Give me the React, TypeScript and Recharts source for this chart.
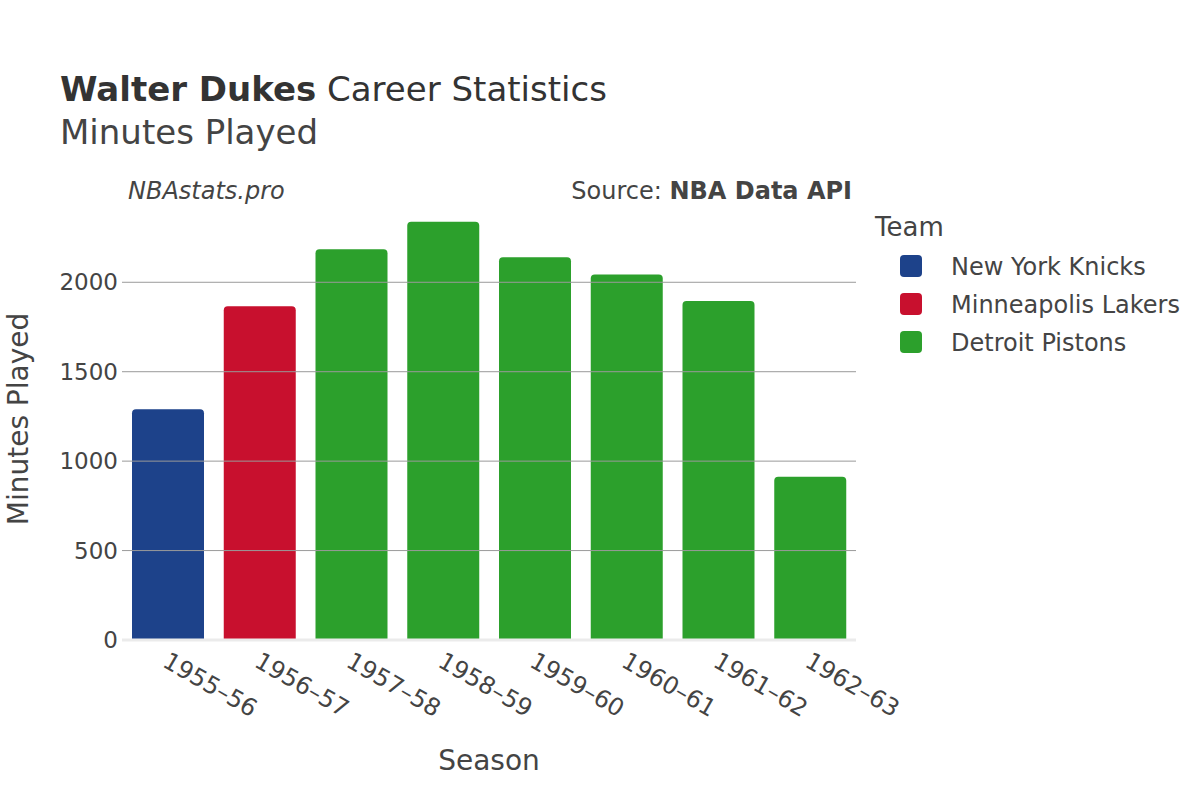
import React from 'react';
import { BarChart, Bar, XAxis, YAxis, ReferenceLine, Cell } from 'recharts';

// seasons and minutes
const seasons = ['1955–56', '1956–57', '1957–58', '1958–59', '1959–60', '1960–61', '1961–62', '1962–63'];
const minutes = [1290, 1866, 2184, 2338, 2140, 2044, 1896, 913];
const teams = ['New York Knicks', 'Minneapolis Lakers', 'Detroit Pistons', 'Detroit Pistons', 'Detroit Pistons', 'Detroit Pistons', 'Detroit Pistons', 'Detroit Pistons'];

const legendTeams = ['New York Knicks', 'Minneapolis Lakers', 'Detroit Pistons'];
const teamColors: Record<string, string> = {
  'New York Knicks': '#1d428a',
  'Minneapolis Lakers': '#c8102e',
  'Detroit Pistons': '#2ca02c',
};
const yTicks = [0, 500, 1000, 1500, 2000];

const FONT = '"DejaVu Sans", sans-serif';
const TEXT = '#444';

const App = () => {
  const data = seasons.map((s, i) => ({ season: s, minutes: minutes[i], team: teams[i] }));

  return (
    <div style={{ position: 'absolute', left: 0, top: 0, width: 1200, height: 800, background: '#fff', fontFamily: FONT }}>
      <BarChart
        width={1200}
        height={800}
        data={data}
        margin={{ top: 200, right: 344, bottom: 100, left: 62 }}
      >
        <XAxis
          dataKey="season"
          height={60}
          tickLine={false}
          axisLine={false}
          interval={0}
          angle={30}
          textAnchor="start"
          tick={{ fill: TEXT, fontSize: 24, fontFamily: FONT, dx: 2 }}
          tickSize={0}
          tickMargin={11}
        />
        <YAxis
          width={60}
          domain={[0, 2460]}
          ticks={yTicks}
          tickLine={false}
          axisLine={false}
          tickSize={0}
          tickMargin={4}
          tick={{ fill: TEXT, fontSize: 23, fontFamily: FONT }}
        />
        {/* gridlines */}
        {yTicks.filter(v => v > 0).map(v => (
          <ReferenceLine key={v} y={v} stroke="#9a9a9a" strokeWidth={1} />
        ))}
        <ReferenceLine y={0} stroke="#ebebeb" strokeWidth={3} />
        <Bar dataKey="minutes" barSize={72} radius={[4, 4, 0, 0]} isAnimationActive={false}>
          {data.map((d, i) => (
            <Cell key={i} fill={teamColors[d.team]} />
          ))}
        </Bar>
      </BarChart>

      <svg width={1200} height={800} style={{ position: 'absolute', left: 0, top: 0, pointerEvents: 'none' }} fontFamily={FONT}>
        <text x={60} y={101} fontSize={34} fill="#333">
          <tspan fontWeight="bold">Walter Dukes</tspan>
          <tspan> Career Statistics</tspan>
        </text>
        <text x={60} y={144} fontSize={34} fill={TEXT}>Minutes Played</text>

        <text x={128} y={199} fontSize={24} fontStyle="italic" fill={TEXT}>NBAstats.pro</text>
        <text x={852} y={199} fontSize={24} textAnchor="end" fill={TEXT}>
          <tspan>Source: </tspan>
          <tspan fontWeight="bold">NBA Data API</tspan>
        </text>

        <text x={28} y={419} fontSize={28} textAnchor="middle" fill={TEXT} transform="rotate(-90 28 419)">Minutes Played</text>
        <text x={489} y={770} fontSize={28} textAnchor="middle" fill={TEXT}>Season</text>

        <text x={875} y={236} fontSize={26} fill={TEXT}>Team</text>
        {legendTeams.map((t, i) => (
          <g key={t}>
            <rect x={900} y={255 + i * 38} width={22} height={22} rx={4} fill={teamColors[t]} />
            <text x={951} y={275 + i * 38} fontSize={24} fill={TEXT}>{t}</text>
          </g>
        ))}
      </svg>
    </div>
  );
};

export default App;
